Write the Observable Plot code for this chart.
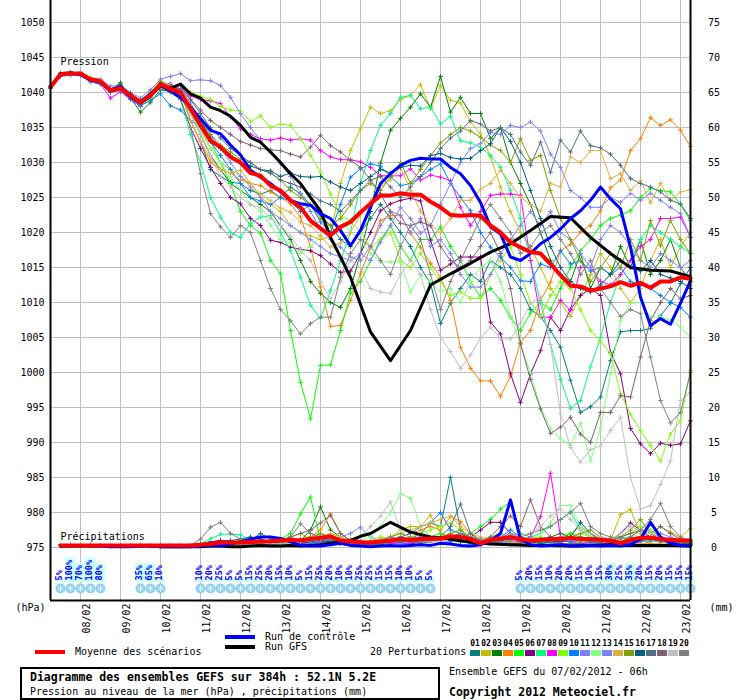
<!DOCTYPE html>
<html><head><meta charset="utf-8">
<script src="https://cdn.jsdelivr.net/npm/d3@7"></script>
<script src="https://cdn.jsdelivr.net/npm/@observablehq/plot@0.6"></script>
<style>
body{margin:0;background:#fff;}
#wrap{position:relative;width:740px;height:700px;font-family:"DejaVu Sans Mono",monospace;color:#000;overflow:hidden;}
#chart svg{display:block;}
.a{position:absolute;}
.t{position:absolute;font-size:10px;line-height:12px;white-space:nowrap;}
.sq{position:absolute;width:10px;height:6px;}
.sl{position:absolute;font-size:8px;font-weight:bold;line-height:10px;width:11px;text-align:center;}
</style></head><body>
<div id="wrap"><div id="chart"></div></div>
<script>
// ---------- data (6-hourly steps from 07/02/2012 06h, 65 steps) ----------
const dayLabels = ["08/02","09/02","10/02","11/02","12/02","13/02","14/02","15/02","16/02","17/02","18/02","19/02","20/02","21/02","22/02","23/02"];
const pTicks = [975,980,985,990,995,1000,1005,1010,1015,1020,1025,1030,1035,1040,1045,1050];
const mmTicks = [0,5,10,15,20,25,30,35,40,45,50,55,60,65,70,75];

const meanP = [1040.8,1042.6,1042.7,1042.7,1041.9,1041.6,1040.3,1040.6,1039.6,1038.6,1039.6,1041.2,1040.5,1040.0,1037.7,1035.3,1033.1,1032.2,1030.8,1030.0,1028.5,1028.1,1026.7,1026.0,1024.6,1023.6,1021.7,1020.6,1019.6,1020.8,1021.5,1022.9,1024.1,1025.3,1025.3,1025.6,1025.4,1025.4,1024.4,1023.6,1022.5,1022.4,1022.5,1022.4,1021.0,1020.0,1018.6,1017.9,1017.2,1017.0,1015.5,1013.9,1012.4,1012.3,1011.7,1012.0,1012.3,1012.9,1012.4,1012.8,1012.1,1013.0,1013.0,1013.6,1013.4];
const ctrlP = [1040.8,1042.5,1042.8,1042.6,1041.8,1041.5,1040.4,1040.8,1039.4,1038.7,1039.8,1041.0,1040.2,1039.3,1037.9,1036.3,1034.6,1034.1,1032.5,1031.1,1028.9,1027.9,1027.0,1025.8,1024.6,1024.1,1023.9,1022.7,1022.0,1020.3,1018.1,1020.3,1023.6,1027.0,1028.4,1029.6,1030.3,1030.6,1030.5,1030.5,1029.3,1028.4,1026.7,1024.3,1020.8,1019.8,1016.5,1016.0,1017.0,1018.4,1019.3,1020.5,1022.0,1023.1,1024.6,1026.5,1024.8,1023.4,1017.9,1010.8,1006.7,1007.7,1006.9,1009.9,1013.1];
const gfsP = [1040.7,1042.7,1042.8,1042.6,1041.8,1041.5,1040.2,1040.6,1039.4,1038.5,1039.5,1041.0,1040.6,1041.2,1039.8,1039.2,1037.9,1037.4,1036.6,1035.3,1033.6,1032.9,1031.5,1030.0,1028.4,1027.0,1025.0,1023.1,1019.3,1016.5,1013.6,1009.7,1005.8,null,1001.7,null,1006.0,null,1012.5,null,1014.1,null,1015.6,null,1017.2,null,1018.4,null,1020.3,null,1022.3,null,1022.1,null,1019.3,null,1017.0,null,1015.0,null,1014.6,null,1014.5,null,1013.7];

const p01 = [1040.8,1042.4,1042.8,1042.6,1041.8,1041.7,1040.5,1040.9,1039.5,1038.8,1039.9,1041.4,1040.8,1040,1036,1033,1029,1028,1027.2,1027,1026,1025.5,1026,1025,1026.5,1025.5,1024,1022.5,1021,1019,1018,1020,1022,1024,1022,1020,1018,1015,1012.7,1007,1009.9,1012,1014,1013,1016,1015,1014,1012,1009,1008,1006,1003.6,998.9,994.3,995.1,996.5,1001.7,1005.8,1006,1006,1006.3,1008.1,1009.9,1012.7,1015];
const p02 = [1040.7,1042.7,1042.9,1042.8,1042.0,1041.5,1040.2,1040.7,1039.8,1038.4,1039.5,1041.0,1040.6,1040.5,1038,1035,1032,1030,1029,1028,1027,1025,1024,1023,1021,1020,1019.5,1019,1019.5,1027,1031.7,1034.8,1037.9,1037,1037.4,1039,1039.6,1041.1,1037.7,1041,1038.9,1038.5,1035.8,1034.1,1030.8,1026.5,1023,1020,1018,1015,1012,1010,1008,1011,1014,1017,1015,1012,1010,1012,1016,1019,1015,1018,1020];
const p03 = [1040.8,1042.5,1042.6,1042.9,1041.9,1041.3,1040.4,1041.4,1039.2,1037.2,1038.6,1040.4,1040.1,1039.5,1037,1034,1031,1029,1027,1026,1025,1024,1023,1021,1019,1016,1013,1011.3,1010,1009.3,1012,1017,1023,1029.9,1034.6,1036.3,1037.9,1039.8,1037.9,1042.3,1037.2,1039.3,1037,1037,1033.4,1035,1030,1027,1024,1020,1016,1014,1013,1017,1012,1015,1014,1018,1015,1019,1014,1016,1019,1015,1013];
const p04 = [1040.6,1042.6,1042.7,1042.6,1041.7,1041.8,1040.1,1040.5,1039.7,1038.9,1040.0,1041.6,1040.3,1040,1036,1033,1030,1029,1028.5,1027.5,1027,1026.7,1025.8,1025,1024.1,1022.2,1017.9,1012.2,1006.6,1006.7,1010.3,1014.1,1017.9,1021.7,1022.4,1022.4,1019.9,1017.9,1015.6,1013.6,1010.3,1003.6,1000.6,998.8,998.8,996.6,999.5,1004.3,1006,1010.3,1012.9,1017.4,1018.3,1020.1,1021,1023.1,1026.4,1027.5,1031.7,1033.4,1036.4,1035.3,1036.1,1034.6,1032.3];
const p05 = [1040.9,1042.8,1042.5,1042.7,1042.1,1041.6,1040.5,1040.8,1039.4,1038.5,1039.7,1041.3,1040.7,1039.5,1037,1035,1033,1030,1027,1023,1021,1019.9,1016,1014.1,1006,998.6,993.4,1001,1001.1,1006,1011.3,1013,1016,1019,1021,1018,1016,1019,1019,1020.8,1018,1016,1013,1010.8,1012,1010.3,1007.9,1006,1008.5,1010,1009,1012,1015,1017.4,1019,1021,1022,1022.5,1023.1,1025,1026.3,1026,1025.8,1024,1021.7];
const p06 = [1040.7,1042.6,1042.8,1042.5,1041.8,1041.5,1040.3,1040.4,1039.6,1038.7,1039.8,1041.1,1040.2,1039,1035,1032,1029.3,1027,1025,1024.1,1022,1021,1018.9,1018.6,1017.9,1017.6,1017.4,1016.7,1015.5,1014.3,1014.5,1017,1020,1023.1,1024.1,1024.6,1024.9,1024.5,1018.9,1014.6,1015.5,1016.5,1016.5,1016.5,1007.2,1005.5,999.8,995.7,999.8,1003.1,1007.9,1006,1009,1011,1012,1011,1002.9,999.8,992,989.8,988.4,989.9,989.6,989.8,993.1];
const p07 = [1040.8,1042.4,1042.6,1042.8,1041.9,1041.4,1040.0,1040.6,1039.3,1038.2,1039.2,1040.9,1040.0,1039,1034,1030,1025,1022.2,1020,1019.3,1021.3,1022.2,1022.4,1020,1017.4,1013.6,1009.6,1007.7,1011.7,1016,1020,1027,1031.7,1035.3,1037,1039.3,1039.6,1037.7,1037.9,1035.5,1036.6,1033.1,1032.8,1032.2,1031,1029.3,1026,1022,1016,1010,1004,999,994.9,996,1000.8,1005,1010,1014,1016,1019,1021,1020,1019,1018,1017];
const p08 = [1040.8,1042.7,1042.8,1042.7,1041.6,1041.2,1039.2,1040.1,1039.0,1038.0,1039.9,1041.5,1041.2,1040.5,1039.5,1039,1038.8,1038.4,1036.5,1034.8,1034,1033.4,1033.2,1033.5,1033.2,1033.4,1033.2,1031.7,1030.8,1030.4,1030.4,1030.1,1029.3,1028.1,1028.1,1028.1,1029.1,1027.5,1028.2,1027.9,1027.4,1023.6,1021,1023,1025.3,1025.5,1025.5,1025.3,1016,1007.9,1007.9,1010.3,1008.9,1015,1015,1013,1012.5,1014,1016,1018,1019,1022,1022,1022.2,1019.3];
const p09 = [1040.9,1042.5,1042.7,1042.9,1042.1,1041.8,1040.6,1040.7,1039.9,1038.8,1040.1,1041.7,1041.0,1041,1040,1039.5,1039,1038,1037.5,1037.4,1035.8,1036.7,1035,1035.5,1035.3,1033.4,1031,1028.6,1025.5,1022.4,1021.7,1020,1018,1019,1020,1016,1015,1017,1015,1013,1011,1011.5,1010.6,1010.6,1014,1016,1018,1014,1010,1008,1011,1013,1012,1009,1006,1004.5,1002.7,997,994,991.7,989.6,987.4,991.2,993.1,1000.3];
const p10 = [1040.6,1042.3,1042.5,1042.4,1041.5,1041.2,1040.0,1040.3,1039.1,1038.1,1038.9,1039.8,1038.1,1037.5,1036,1035,1033,1031,1029,1027,1025,1024.5,1024,1025,1024.5,1023,1024,1021.5,1020,1024,1027.9,1029.1,1029.8,1029.5,1028,1026.7,1027,1028,1029,1029.8,1027,1025,1023.1,1020,1017.9,1016.5,1015,1013.1,1013,1015.5,1015,1017.4,1015.5,1016,1014.5,1015,1014,1015,1013,1012.5,1012,1011,1010,1009.3,1007.9];
const p11 = [1040.9,1042.8,1042.9,1042.8,1042.0,1041.9,1040.9,1041.0,1040.0,1039.2,1040.4,1041.9,1042.3,1042.7,1041.7,1041.8,1041.7,1041,1039.3,1037,1035,1033.1,1031.5,1029.8,1028,1025.6,1023,1020.5,1019,1017.9,1016.5,1016,1018,1021,1023,1022.5,1020,1022,1018,1019,1017,1014,1012.2,1012.2,1014,1017,1019,1021,1023,1021,1023,1020,1019,1017,1015,1019,1021,1020,1018,1016,1015,1017,1016,1015,1016];
const p12 = [1040.7,1042.5,1042.6,1042.6,1041.8,1041.6,1040.2,1040.7,1039.5,1038.4,1039.4,1041.2,1040.4,1040,1037,1034.5,1032,1030,1028,1026,1024,1023,1021,1019,1018.5,1017,1018,1019.5,1021,1022,1020,1019,1017,1015.8,1015.8,1015.8,1011.5,1014,1013,1011.5,1012,1010,1013,1015,1016,1013,1008,1004,1000,995,992,990.5,989.6,992.7,987.4,992,999.8,1007.4,1009.9,1010,1007.9,1008,1007.5,1006.5,1005];
const p13 = [1040.8,1042.6,1042.7,1042.5,1041.9,1041.5,1040.4,1040.6,1039.7,1038.6,1039.6,1041.1,1040.6,1040.5,1038.5,1036,1034,1032,1030,1028,1026.5,1025,1023,1022,1021,1020,1019,1018,1017,1016.5,1016,1017,1016,1018.6,1021,1023.6,1022,1019.9,1021,1024,1027,1030,1032,1032.7,1034.3,1034,1035.3,1035,1035.8,1034.5,1031.2,1029.3,1026,1025,1023.6,1023.6,1025,1024.3,1025.6,1024.6,1025.6,1024.6,1023.6,1022.7,1019.3];
const p14 = [1040.7,1042.7,1042.8,1042.7,1041.7,1041.4,1040.1,1040.5,1039.6,1038.7,1039.7,1041.3,1040.3,1040,1036,1033,1030.5,1029,1028.5,1028.9,1027,1025.5,1024.5,1023.5,1022.9,1021.5,1021,1019.5,1017.9,1018.5,1020,1022.5,1024.5,1026.7,1027.5,1029.3,1026,1023.1,1021,1020,1022,1024.6,1024.6,1026.2,1027,1028.9,1027,1025,1024,1023.1,1027,1026.5,1030.8,1030,1031.7,1031.7,1027.7,1028.4,1026,1027.4,1024.3,1027,1024.6,1025.8,1026.1];
const p15 = [1040.8,1042.5,1042.7,1042.6,1041.9,1041.7,1040.5,1040.9,1039.8,1038.9,1039.9,1041.2,1040.5,1040,1038,1036,1034,1032.5,1031.5,1030.5,1030,1029,1028.5,1027.5,1026,1025,1024,1022,1021,1022,1024,1026,1027,1026,1028,1030,1027,1029,1031,1032.8,1034,1035,1034.5,1033.6,1032.5,1031.7,1030,1033.4,1030.3,1031,1026,1022,1019,1016,1013,1015,1017,1015,1019,1016,1021.7,1018.1,1021.7,1019,1017];
const p16 = [1040.8,1042.6,1042.6,1042.8,1042.0,1041.6,1040.4,1041.1,1039.8,1038.8,1039.7,1041.0,1040.4,1040,1038,1036,1033.5,1032,1031,1030,1029.5,1029,1028.8,1028,1028.5,1028,1027.9,1028,1027.2,1026.5,1026,1027,1028,1029,1028.5,1029.3,1029.6,1029.5,1031,1031.3,1030.7,1030.5,1030.6,1031.7,1032.7,1035,1033,1030,1026,1022,1018,1015,1013,1012,1011.5,1012.5,1014,1016,1015,1014.5,1016,1014,1013.5,1013,1012];
const p17 = [1040.9,1042.7,1042.8,1042.7,1041.8,1041.5,1040.3,1040.6,1039.5,1038.5,1039.8,1041.4,1040.9,1041,1039,1037,1035,1033.5,1032,1031,1030,1029,1028.5,1027.5,1027,1026.5,1025.5,1024.5,1024,1023,1024.5,1026,1027.5,1028,1026.5,1025,1026.5,1028,1030,1032,1033.5,1034.5,1036,1035.5,1034.5,1035,1034,1031.5,1029.6,1032.9,1028.6,1033.2,1031.5,1034.5,1032.4,1032.1,1031.2,1029.6,1027.7,1027,1026.5,1025.8,1024.6,1024.1,1022];
const p18 = [1040.7,1042.4,1042.6,1042.6,1041.9,1041.6,1040.2,1040.8,1039.6,1038.6,1039.8,1041.0,1040.7,1040.5,1039,1037.5,1036,1035,1034,1033,1032.5,1032,1031.8,1031.7,1031.2,1030.8,1032.2,1033.9,1032.4,1031.5,1030.3,1029.3,1027.5,1025.5,1023,1021.3,1021,1021.5,1021,1018,1016,1015,1016,1018,1020,1017,1012,1004.1,999,994.8,991.3,992.2,993.6,991.2,990,994.3,994.3,996.7,996.5,1002.2,1007.4,1010,1012,1010.5,1011];
const p19 = [1040.8,1042.6,1042.7,1042.8,1042.0,1041.7,1040.4,1040.6,1039.4,1038.5,1039.5,1040.8,1040.2,1040,1037,1034,1031,1028,1026.5,1025,1024,1023.5,1022,1021,1019.5,1017.5,1016,1013,1010.5,1013,1016,1015,1012,1011.5,1011.3,1014,1016,1014,1009,1005,1003,1000.6,1002.5,1004.9,1006.5,1004.8,1004.8,1007,1009.9,1010.8,1004,994.1,989.3,987.2,989,989.5,991.7,993.6,985,980.5,981,984,987.4,996,997.2];
const p20 = [1040.7,1042.5,1042.6,1042.5,1041.6,1041.3,1040.1,1040.4,1039.4,1038.3,1039.3,1040.7,1040.0,1039,1035,1028.4,1022.7,1020.8,1019.3,1021,1020,1016,1012,1009,1007.4,1005.5,1007,1007.9,1007.9,1013.6,1017,1019,1018,1016,1014,1018,1021,1019,1014,1009,1013,1016,1019,1022,1024,1022,1020,1017,1018,1020,1021,1019,1017,1014,1016,1012,1010,1008,1009,1008.4,1002.2,996,992.8,994.3,1000];

// precipitation (mm per 6h)
const meanR = [null,.3,.3,.3,.3,.3,.3,.3,.3,.3,.3,.3,.3,.3,.3,.4,.5,.7,.7,.7,.8,.85,.9,1.0,1.1,1.0,1.2,1.4,1.6,1.0,.9,.76,.7,.85,1.0,1.2,1.1,1.2,1.3,1.25,1.6,1.5,1.2,.6,1.1,1.3,1.5,1.2,1.0,1.1,1.2,1.2,1.4,1.2,1.2,1.1,1.0,.6,1.1,1.4,1.4,1.2,1.1,1.0,1.0];
const ctrlR = [null,.2,.2,.3,.2,.2,.1,.1,.1,.2,.2,.1,.1,.1,.1,.2,.3,.2,.5,.8,1.2,1.5,1.5,1.3,.8,.3,.2,.2,.4,.6,.3,.2,.1,.2,.3,.2,.3,.4,.3,.6,.5,.3,.2,.4,1.0,2.0,6.8,1.2,.4,.2,.3,.4,.2,.2,.3,.2,.3,.2,.4,1.2,3.6,1.5,.6,.3,.2];
const gfsR = [null,.2,.2,.2,.2,.2,.15,.15,.15,.2,.2,.1,.1,.1,.1,.1,.2,.2,.1,.1,.2,.3,.2,.2,.3,.2,.3,.4,.6,.8,1.0,1.6,2.0,null,3.6,null,2.2,null,1.5,null,1.2,null,.8,null,.5,null,.4,null,.3,null,.3,null,.2,null,.3,null,.4,null,.3,null,.3,null,.3,null,.2];
const r01 = [null,.3,.4,.3,.4,.3,.2,.2,.3,.3,.2,.3,.3,.2,.3,.5,.8,1.0,.8,.6,1.0,2.0,1.2,.8,.6,.5,1.0,1.5,.8,.6,.5,.4,.6,.8,1.0,.6,1.2,2.0,3.5,3.0,10.0,2.5,1.0,.5,.8,.6,.4,.8,1.2,.6,.4,.8,1.2,1.0,.8,.6,.5,.4,.6,1.0,1.5,.8,.5,.4,.6];
const r02 = [null,.3,.3,.4,.3,.3,.3,.2,.3,.4,.3,.3,.2,.2,.2,.3,.4,.5,.6,.8,.6,.5,.8,1.0,1.5,2.0,1.2,.8,1.0,.8,.6,.5,.8,1.0,1.5,2.5,3.0,3.0,4.6,2.0,1.5,1.0,.6,.4,.8,1.0,1.5,.8,.5,.6,.8,1.0,2.0,3.0,2.0,1.2,1.0,4.7,5.4,2.0,1.5,3.0,2.2,1.5,2.7];
const r03 = [null,.3,.3,.3,.3,.3,.3,.3,.3,.3,.3,.3,.3,.3,.3,.3,.5,.6,.8,.5,.6,.8,.6,.5,.8,1.0,2.5,5.8,2.5,1.5,.8,.6,.5,.4,.6,.8,1.0,1.5,1.0,1.2,1.5,2.0,1.2,.8,1.0,1.5,1.2,1.0,.8,1.0,1.5,2.0,1.5,1.0,1.2,1.5,1.0,.8,1.5,2.5,2.0,1.0,.8,.6,.5];
const r04 = [null,.3,.3,.3,.3,.3,.2,.2,.3,.3,.3,.2,.2,.2,.3,.4,.6,.5,.4,.5,.6,.8,.7,.5,1.0,1.2,1.5,2.5,4.8,2.0,1.0,.8,.6,.8,1.0,1.5,2.0,2.5,3.0,2.5,4.4,3.7,2.0,1.0,.8,.6,.5,.8,1.0,1.2,1.0,.8,1.0,1.2,.8,.6,.4,.5,.8,1.0,.6,.4,.3,.3,.4];
const r05 = [null,.3,.3,.3,.3,.3,.3,.3,.3,.3,.3,.3,.3,.3,.3,.4,.5,.6,.8,1.0,.8,.6,.8,1.2,2.0,4.8,7.2,1.0,.8,.6,.5,.4,.6,.8,1.0,1.5,1.2,1.0,1.5,2.0,1.5,1.2,2.0,3.0,4.0,5.5,6.5,2.0,1.5,1.2,1.0,1.5,2.0,1.5,1.0,.8,1.0,1.5,1.2,1.0,.8,1.2,1.0,.8,.6];
const r06 = [null,.3,.3,.3,.3,.3,.3,.3,.3,.3,.3,.3,.3,.3,.3,.5,.8,1.0,.9,.8,.6,.5,.8,.6,.5,.8,.6,.5,.8,1.0,.6,.4,.5,.6,.8,.6,.5,.8,1.0,1.2,1.5,2.0,1.5,2.5,3.6,3.6,2.0,1.5,1.0,1.2,1.0,.8,1.0,1.2,1.5,1.2,1.0,2.0,3.5,2.5,1.5,1.0,.8,.6,.8];
const r07 = [null,.3,.3,.3,.3,.3,.3,.3,.3,.3,.3,.3,.3,.3,.3,.6,1.2,1.9,1.9,1.8,1.0,.8,.6,.5,.8,1.0,1.2,2.0,1.5,1.0,.6,.5,.4,.6,.8,1.0,1.2,1.0,.8,1.0,1.5,1.2,1.0,.6,.8,1.0,1.5,1.2,1.5,2.0,3.0,4.0,5.1,2.5,1.5,1.0,.8,.6,.8,1.0,1.2,1.0,.8,.5,.4];
const r08 = [null,.3,.3,.3,.3,.3,.3,.3,.3,.3,.3,.3,.3,.3,.3,.4,.6,.8,.7,.6,.5,.6,.8,.6,.5,.6,.5,.8,1.0,.8,.6,.5,.6,.8,.6,.5,.6,.8,1.0,1.2,1.5,1.2,1.0,.8,.6,.8,1.0,.8,1.5,4.4,10.6,1.5,.8,.6,.5,.6,.8,1.0,.8,.6,.5,.4,.3,.3,.3];
const r09 = [null,.3,.3,.3,.3,.3,.3,.3,.3,.3,.3,.3,.3,.3,.3,.3,.4,.5,.5,.6,.5,.6,.7,.8,1.0,1.2,1.0,1.5,2.0,1.5,1.0,.8,1.0,1.5,1.2,1.0,1.5,2.0,2.5,3.0,3.5,2.5,1.5,1.0,1.5,2.0,1.5,1.0,1.2,1.5,1.2,1.0,1.5,2.0,1.5,1.0,1.2,1.5,2.0,3.0,2.5,1.5,1.0,.8,1.2];
const r10 = [null,.3,.3,.3,.3,.3,.3,.3,.3,.3,.3,.3,.3,.3,.3,.3,.4,.5,.4,.5,.6,.5,.4,.6,.8,1.0,.8,.6,1.0,1.2,.8,.6,.5,.8,1.0,1.5,2.0,3.0,3.5,5.0,2.5,2.0,1.2,.8,1.0,1.5,2.5,1.5,1.0,1.2,1.5,1.0,.8,1.0,.8,1.0,1.2,.8,1.0,1.5,1.2,1.0,.8,.6,.5];
const r11 = [null,.3,.3,.3,.3,.3,.3,.3,.3,.3,.3,.3,.3,.3,.3,.3,.4,.6,.5,.4,.5,.6,.8,.6,.5,.6,.8,1.0,1.2,1.5,2.0,2.9,1.5,1.0,.8,.6,.8,1.0,1.2,1.5,1.2,1.0,.8,.6,1.0,1.5,2.0,1.5,1.0,.8,1.0,1.2,1.0,.8,1.0,1.5,1.2,1.0,.8,1.0,1.5,2.0,1.5,1.0,.8];
const r12 = [null,.3,.3,.3,.3,.3,.3,.3,.3,.3,.3,.3,.3,.3,.3,.3,.4,.5,.6,.5,.4,.5,.6,.8,1.0,.8,1.0,1.2,1.5,1.0,.8,1.0,1.5,3.0,5.0,7.7,7.0,3.0,1.5,1.0,1.2,1.5,1.0,.8,1.0,1.5,1.2,1.0,1.2,2.0,3.5,6.0,6.0,3.0,1.5,1.0,1.2,1.5,2.0,1.5,1.0,.8,.6,.5,.4];
const r13 = [null,.3,.3,.3,.3,.3,.3,.3,.3,.3,.3,.3,.3,.3,.3,.4,.5,.4,.5,.6,.5,.4,.6,.5,.6,.8,.6,.5,.8,1.0,1.2,1.0,.8,.6,.8,1.0,1.2,1.5,1.2,1.0,.8,1.2,1.5,1.0,.8,.6,.8,.5,.4,.4,.5,.6,.5,.4,.5,.6,.5,.4,.6,.8,1.0,.8,.6,.5,.4];
const r14 = [null,.3,.3,.3,.3,.3,.3,.3,.3,.3,.3,.3,.3,.3,.3,.4,.5,.6,.8,.6,.5,.8,1.0,.8,.6,.8,1.0,1.5,2.0,1.5,1.0,.8,1.0,1.2,1.5,2.0,2.5,3.0,3.5,4.0,4.5,3.0,2.0,1.5,1.2,1.0,.8,.6,.8,1.0,.8,.6,.5,.8,1.0,1.5,1.2,1.0,.8,.6,.5,.6,.8,.6,.5];
const r15 = [null,.3,.3,.3,.3,.3,.3,.3,.3,.3,.3,.3,.3,.3,.3,.3,.4,.5,.6,.5,.4,.6,.8,.6,1.0,1.2,1.5,2.0,1.5,1.0,.8,.6,.8,1.0,1.5,2.0,1.5,1.0,1.2,1.5,2.0,2.5,1.5,1.0,.8,1.0,1.5,1.2,1.0,.8,1.0,1.2,1.5,2.0,2.5,1.5,1.0,1.5,2.5,4.0,2.0,1.5,1.0,.8,.6];
const r16 = [null,.3,.3,.3,.3,.3,.3,.3,.3,.3,.3,.3,.3,.3,.3,.4,.6,.8,1.0,1.2,1.5,1.2,.8,.6,.5,.6,.8,1.0,.8,.6,.5,.4,.5,.6,.8,1.0,.8,1.0,1.2,1.5,1.0,.8,.6,.5,.8,1.0,1.2,1.0,.8,.6,.8,1.0,1.5,3.6,2.0,1.0,.8,.6,.8,1.0,1.2,1.0,.8,.6,.5];
const r17 = [null,.3,.3,.3,.3,.3,.3,.3,.3,.3,.3,.3,.3,.3,.3,.3,.5,.6,.5,.4,.6,.8,.6,.5,.6,.8,1.0,1.2,1.0,.8,.6,.5,.4,.6,.8,1.0,.8,.6,.8,1.5,3.0,6.2,2.0,1.0,.8,.6,.5,.6,.8,1.0,.8,.6,.5,.6,.8,.6,.5,.4,.6,1.0,1.5,1.2,.8,.5,.4];
const r18 = [null,.3,.3,.3,.3,.3,.3,.3,.3,.3,.3,.3,.3,.3,.3,.3,.4,.5,.6,.5,.4,.6,.8,1.0,1.5,2.0,2.5,3.5,4.6,2.0,1.0,.8,.6,.8,1.0,1.2,1.0,.8,1.0,1.2,1.5,2.0,1.5,1.0,1.5,3.0,4.5,3.0,6.8,3.0,1.5,1.0,1.2,1.5,1.0,.8,1.0,1.5,2.0,2.5,2.0,3.0,2.0,1.2,.8];
const r19 = [null,.3,.3,.3,.3,.3,.3,.3,.3,.3,.3,.3,.3,.3,.3,.3,.4,.5,.4,.3,.4,.5,.6,.5,.6,.8,1.0,1.2,1.5,1.2,1.0,1.5,3.0,4.5,6.5,2.5,1.2,1.0,.8,1.0,1.5,1.2,1.0,.8,1.0,1.2,1.5,1.8,2.0,3.0,4.5,5.5,4.0,2.5,2.0,1.5,1.2,2.0,3.0,2.5,2.0,1.5,1.2,1.0,.8];
const r20 = [null,.3,.3,.3,.3,.3,.3,.3,.3,.3,.3,.3,.3,.3,.3,1.2,2.9,3.6,2.0,1.2,.8,.6,.8,1.0,1.5,3.4,2.0,1.5,1.2,1.0,.8,.6,.8,1.0,1.5,1.2,1.0,.8,1.0,1.2,1.5,2.0,1.5,1.2,1.0,.8,1.0,1.5,2.0,2.5,3.0,4.0,5.0,6.3,3.0,2.0,1.5,1.2,1.5,2.5,4.0,6.3,3.0,1.5,1.0];

const memberIds = ["01","02","03","04","05","06","07","08","09","10","11","12","13","14","15","16","17","18","19","20"];
const memberColors = ["#008080","#c0c000","#008000","#ff8000","#00ff00","#800080","#00ff80","#ff00ff","#80ff00","#0080ff","#8080ff","#80ff80","#8080ff","#e0b040","#80a000","#006080","#507080","#806070","#c0c0c0","#808080"];
const memberP = [p01,p02,p03,p04,p05,p06,p07,p08,p09,p10,p11,p12,p13,p14,p15,p16,p17,p18,p19,p20];
const memberR = [r01,r02,r03,r04,r05,r06,r07,r08,r09,r10,r11,r12,r13,r14,r15,r16,r17,r18,r19,r20];

// probability of precipitation per 6h step
const probStep = [1,2,3,4,5,9,10,11,15,16,17,18,19,20,21,22,23,24,25,26,27,28,29,30,31,32,33,34,35,36,37,38,47,48,49,50,51,52,53,54,55,56,57,58,59,60,61,62,63,64];
const probVal  = [5,100,70,100,80,35,65,10,10,20,25,5,5,15,25,20,15,10,5,15,25,20,10,10,25,25,15,15,10,10,5,5,5,20,15,10,20,20,15,10,15,30,25,35,20,15,20,15,15,15];

// ---------- build ----------
const toRows = (arr, off) => arr.map((v,i)=>({h:i*6, v: v==null?null:v+off})).filter(d=>d.v!=null);
const yLo = 1050 - 578/7, yHi = 1050 + 22/7;
const tickHours = dayLabels.map((d,i)=>18+24*i);
const probs = probStep.map((s,k)=>({h:s*6, v:probVal[k], bh: probVal[k] >= 30 ? (String(probVal[k]).length+1)*5.7+2 : 3}));

const marks = [];
marks.push(Plot.ruleX(tickHours, {y1: yLo, y2: yHi, stroke: "#c0c0c0", strokeWidth: 1}));
marks.push(Plot.ruleY(pTicks, {x1: 0, x2: 384, stroke: "#c0c0c0", strokeWidth: 1}));
// probability strip
marks.push(Plot.rect(probs, {x1: d=>d.h-3, x2: d=>d.h+3, y1: 970, y2: d=>970+d.bh/7, fill: "#c8ffff"}));
marks.push(Plot.dot(probs, {x: "h", y: 969.15, r: 5, fill: "#8ccff2"}));
marks.push(Plot.dot(probs, {x: "h", y: 969.15, r: 3.2, symbol: "asterisk", stroke: "#e6f7ff", strokeWidth: 1}));
marks.push(Plot.text(probs, {x: "h", y: 970.3, text: d=>d.v+"%", rotate: -90, textAnchor: "start", fill: "#0000ff", fontWeight: "bold", fontSize: 8.5, dx: -1}));
// perturbations: precipitation then pressure
memberR.forEach((arr,k)=>{
  const rows = toRows(arr, 975);
  marks.push(Plot.line(rows, {x:"h", y:"v", stroke: memberColors[k], strokeWidth: 1}));
  marks.push(Plot.dot(rows, {x:"h", y:"v", symbol:"plus", r:1.6, stroke: memberColors[k], strokeWidth: 1}));
});
memberP.forEach((arr,k)=>{
  const rows = toRows(arr, 0);
  marks.push(Plot.line(rows, {x:"h", y:"v", stroke: memberColors[k], strokeWidth: 1}));
  marks.push(Plot.dot(rows, {x:"h", y:"v", symbol:"plus", r:1.6, stroke: memberColors[k], strokeWidth: 1}));
});
// GFS, control, mean
marks.push(Plot.line(toRows(gfsR, 975), {x:"h", y:"v", stroke:"#000", strokeWidth: 3}));
marks.push(Plot.line(toRows(gfsP, 0), {x:"h", y:"v", stroke:"#000", strokeWidth: 3}));
marks.push(Plot.line(toRows(ctrlR, 975), {x:"h", y:"v", stroke:"#0000ff", strokeWidth: 3}));
marks.push(Plot.line(toRows(ctrlP, 0), {x:"h", y:"v", stroke:"#0000ff", strokeWidth: 3}));
marks.push(Plot.line(toRows(meanR, 975), {x:"h", y:"v", stroke:"#ff0000", strokeWidth: 4}));
marks.push(Plot.line(toRows(meanP, 0), {x:"h", y:"v", stroke:"#ff0000", strokeWidth: 4}));
// frame
marks.push(Plot.ruleX([0, 384], {y1: yLo, y2: yHi, stroke: "#000", strokeWidth: 2}));
marks.push(Plot.ruleY([yLo], {x1: 0, x2: 384, stroke: "#000", strokeWidth: 2}));
// axis labels
marks.push(Plot.text(pTicks, {x: 0, y: d=>d, text: d=>String(d), textAnchor: "end", dx: -6, fontSize: 10}));
marks.push(Plot.text(mmTicks, {x: 384, y: d=>975+d, text: d=>String(d), textAnchor: "middle", dx: 23.5, fontSize: 10}));
marks.push(Plot.text(["(hPa)"], {x: 0, y: 966.4, text: d=>d, textAnchor: "end", dx: -5, fontSize: 10}));
marks.push(Plot.text(["(mm)"], {x: 384, y: 966.4, text: d=>d, textAnchor: "start", dx: 19, fontSize: 10}));
marks.push(Plot.text(dayLabels, {x: (d,i)=>tickHours[i], y: 967.0, text: d=>d, rotate: -90, textAnchor: "end", dx: 6.5, fontSize: 10}));
marks.push(Plot.text(["Pression"], {x: 6, y: 1044.35, text: d=>d, textAnchor: "start", fontSize: 10}));
marks.push(Plot.text(["Précipitations"], {x: 6, y: 976.5, text: d=>d, textAnchor: "start", fontSize: 10}));

const chart = Plot.plot({
  width: 740, height: 632,
  marginLeft: 50, marginRight: 50, marginTop: 0, marginBottom: 32,
  x: {domain: [0, 384], axis: null},
  y: {domain: [yLo, yHi], axis: null},
  style: {fontFamily: "'DejaVu Sans Mono', monospace", fontSize: "10px", background: "white", overflow: "visible", color: "#000"},
  marks
});
document.getElementById("chart").appendChild(chart);

// ---------- legend & captions ----------
const wrap = document.getElementById("wrap");
function add(cls, style, text){ const e=document.createElement("div"); e.className=cls; Object.assign(e.style, style); if(text!=null) e.textContent=text; wrap.appendChild(e); return e; }
add("a", {left:"35px", top:"650px", width:"30px", height:"4px", background:"#ff0000"});
add("t", {left:"75px", top:"646px"}, "Moyenne des scénarios");
add("a", {left:"225px", top:"635px", width:"30px", height:"4px", background:"#0000ff"});
add("t", {left:"265px", top:"631px"}, "Run de contrôle");
add("a", {left:"225px", top:"645px", width:"30px", height:"4px", background:"#000000"});
add("t", {left:"265px", top:"641px"}, "Run GFS");
add("t", {left:"370px", top:"646px"}, "20 Perturbations");
memberIds.forEach((id,k)=>{
  add("sq", {left:(470+11*k)+"px", top:"650px", background: memberColors[k]});
  add("sl", {left:(469.5+11*k)+"px", top:"639px"}, id);
});
add("a", {left:"20px", top:"667px", width:"416px", height:"29px", border:"2px solid #000"});
add("t", {left:"30px", top:"670px", fontSize:"11.5px", fontWeight:"bold", lineHeight:"14px"}, "Diagramme des ensembles GEFS sur 384h : 52.1N 5.2E");
add("t", {left:"30px", top:"686px"}, "Pression au niveau de la mer (hPa) , précipitations (mm)");
add("t", {left:"449px", top:"666px"}, "Ensemble GEFS du 07/02/2012 - 06h");
add("t", {left:"449px", top:"685px", fontSize:"11.5px", fontWeight:"bold", lineHeight:"14px"}, "Copyright 2012 Meteociel.fr");
</script>
</body></html>
